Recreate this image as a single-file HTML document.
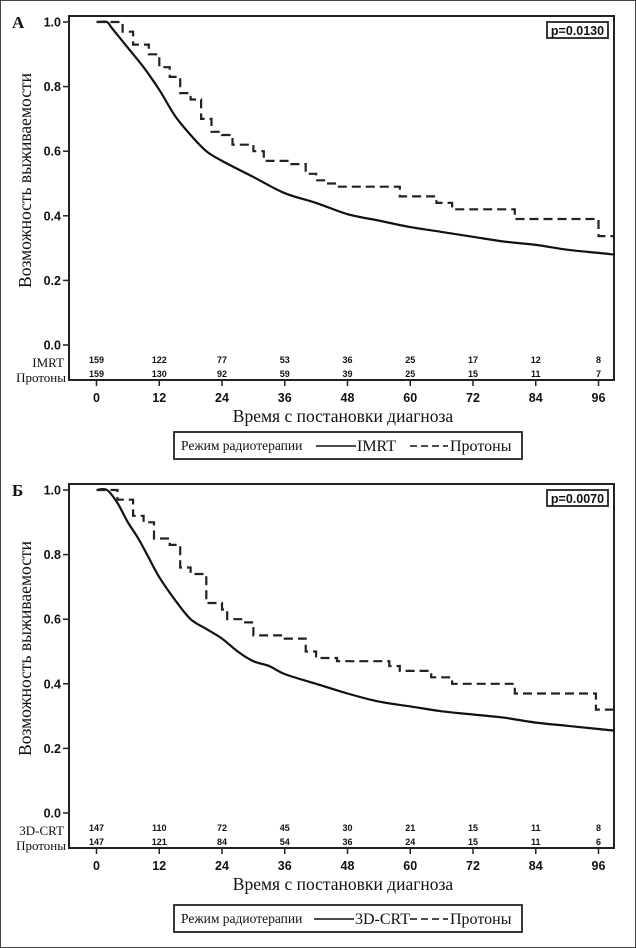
<!DOCTYPE html>
<html><head><meta charset="utf-8">
<style>
html,body{margin:0;padding:0;background:#fff;}
svg{display:block;}
.tick{font-family:"Liberation Sans",sans-serif;font-weight:bold;font-size:12.5px;fill:#111;}
.risk{font-family:"Liberation Sans",sans-serif;font-weight:bold;font-size:9px;fill:#111;}
.serif{font-family:"Liberation Serif","Noto Serif CJK SC",serif;fill:#111;}
</style></head>
<body>
<svg id="chart" width="636" height="948" viewBox="0 0 636 948" xmlns="http://www.w3.org/2000/svg">
<rect x="0.5" y="0.5" width="635" height="947" fill="#fff" stroke="#444" stroke-width="1"/>
</svg>
<script>
// ---- data ----
const xTicks=[0,12,24,36,48,60,72,84,96];
const yTicks=[0.0,0.2,0.4,0.6,0.8,1.0];
// Panel A
const aSolidT=[0,2,3,6,9,12,15,18,21,24,30,36,42,48,54,60,66,72,78,84,90,96,99];
const aSolidS=[1,1,0.98,0.92,0.86,0.79,0.71,0.65,0.60,0.57,0.52,0.47,0.44,0.405,0.385,0.365,0.35,0.335,0.32,0.31,0.295,0.285,0.28];
const aDashT=[0,5,7,10,12,14,16,18,20,22,24,26,30,32,37,40,42,44,46,58,65,68,80,96,99];
const aDashS=[1,0.97,0.93,0.90,0.86,0.83,0.78,0.76,0.70,0.66,0.65,0.62,0.60,0.57,0.56,0.53,0.51,0.50,0.49,0.46,0.44,0.42,0.39,0.337,0.337];
const aRisk1=[159,122,77,53,36,25,17,12,8];
const aRisk2=[159,130,92,59,39,25,15,11,7];
// Panel B
const bSolidT=[0,2,4,6,8,10,12,15,18,21,24,27,30,33,36,42,48,54,60,66,72,78,84,90,96,99];
const bSolidS=[1,1,0.96,0.90,0.85,0.79,0.73,0.66,0.60,0.57,0.54,0.50,0.47,0.455,0.43,0.40,0.37,0.345,0.33,0.315,0.305,0.295,0.28,0.27,0.26,0.255];
const bDashT=[0,4,7,9,11,14,16,18,21,24,25,28,30,36,40,42,46,56,58,64,68,80,95.5,99];
const bDashS=[1,0.97,0.92,0.90,0.85,0.83,0.76,0.74,0.65,0.63,0.60,0.59,0.55,0.54,0.50,0.48,0.47,0.455,0.44,0.42,0.40,0.37,0.32,0.32];
const bRisk1=[147,110,72,45,30,21,15,11,8];
const bRisk2=[147,121,84,54,36,24,15,11,6];

const NS="http://www.w3.org/2000/svg";
const svg=document.getElementById('chart');
function mk(tag,attrs,parent){const e=document.createElementNS(NS,tag);for(const k in attrs)e.setAttribute(k,attrs[k]);(parent||svg).appendChild(e);return e;}

function smoothPath(pts){
  let d='M'+pts[0][0].toFixed(1)+','+pts[0][1].toFixed(1);
  for(let i=0;i<pts.length-1;i++){
    const p0=pts[Math.max(0,i-1)],p1=pts[i],p2=pts[i+1],p3=pts[Math.min(pts.length-1,i+2)];
    const c1=[p1[0]+(p2[0]-p0[0])/6,p1[1]+(p2[1]-p0[1])/6];
    const c2=[p2[0]-(p3[0]-p1[0])/6,p2[1]-(p3[1]-p1[1])/6];
    d+='C'+c1[0].toFixed(1)+','+c1[1].toFixed(1)+' '+c2[0].toFixed(1)+','+c2[1].toFixed(1)+' '+p2[0].toFixed(1)+','+p2[1].toFixed(1);
  }
  return d;
}

function panel(cfg){
  const g=mk('g',{});
  
  
  const X=t=>96.5+t*(598.5-96.5)/96;
  const Y=s=>cfg.y0-s*(cfg.y0-cfg.y1);
  const frame=mk('rect',{x:69,y:cfg.top,width:545,height:cfg.bot-cfg.top,fill:'none',stroke:'#222','stroke-width':2},g);
  
  
  const lab=mk('text',{x:12,y:cfg.top+12,class:'serif','font-size':17,'font-weight':'bold'},g);lab.textContent=cfg.letter;
  
  
  yTicks.forEach(v=>{
    mk('line',{x1:63,x2:69,y1:Y(v),y2:Y(v),stroke:'#222','stroke-width':1.5},g);
    const t=mk('text',{x:61,y:Y(v)+4.5,class:'tick','text-anchor':'end'},g);t.textContent=v.toFixed(1);
    
    
  });
  xTicks.forEach((v,i)=>{
    mk('line',{x1:X(v),x2:X(v),y1:cfg.bot,y2:cfg.bot+6,stroke:'#222','stroke-width':1.5},g);
    const t=mk('text',{x:X(v),y:cfg.bot+22,class:'tick','text-anchor':'middle'},g);t.textContent=v;
    
    
    const r1=mk('text',{x:X(v),y:cfg.bot-17,class:'risk','text-anchor':'middle'},g);r1.textContent=cfg.r1[i];
    
    
    const r2=mk('text',{x:X(v),y:cfg.bot-3,class:'risk','text-anchor':'middle'},g);r2.textContent=cfg.r2[i];
    
    
  });
  const n1=mk('text',{x:64,y:cfg.bot-13,class:'serif','font-size':13,'text-anchor':'end'},g);n1.textContent=cfg.g1;
  
  
  const n2=mk('text',{x:66,y:cfg.bot+2,class:'serif','font-size':13,'text-anchor':'end'},g);n2.textContent='Протоны';
  
  
  const yt=mk('text',{x:0,y:0,class:'serif','font-size':17.5,'text-anchor':'middle',transform:`translate(31,${(cfg.y0+cfg.y1)/2-3}) rotate(-90)`},g);yt.textContent='Возможность выживаемости';
  
  
  const xt=mk('text',{x:343,y:cfg.bot+42,class:'serif','font-size':17.5,'text-anchor':'middle'},g);xt.textContent='Время с постановки диагноза';
  
  
  const pb=mk('rect',{x:547,y:cfg.top+6,width:61,height:16,fill:'#fff',stroke:'#222','stroke-width':1.8},g);
  
  
  const pt=mk('text',{x:577.5,y:cfg.top+19,class:'tick','text-anchor':'middle','font-size':11.5},g);pt.textContent=cfg.p;
  
  
  const pts=cfg.sT.map((t,i)=>[X(t),Y(cfg.sS[i])]);
  const sp=mk('path',{d:smoothPath(pts),fill:'none',stroke:'#111','stroke-width':2.2,'stroke-linejoin':'round'},g);
  
  
  let dd='';cfg.dT.forEach((t,i)=>{if(i===0)dd+='M'+X(t)+','+Y(cfg.dS[0]);else{dd+='H'+X(t).toFixed(1)+'V'+Y(cfg.dS[i]).toFixed(1);}});
  const dp=mk('path',{d:dd,fill:'none',stroke:'#222','stroke-width':2.2,'stroke-dasharray':'9,5'},g);
  
  
  const lg=mk('g',{},g);
  
  
  mk('rect',{x:174,y:cfg.leg,width:348,height:27,fill:'#fff',stroke:'#222','stroke-width':1.8},lg);
  const lt=mk('text',{x:181,y:cfg.leg+18,class:'serif','font-size':13.5},lg);lt.textContent='Режим радиотерапии';
  
  
  mk('line',{x1:cfg.lx1,x2:cfg.lx1+40,y1:cfg.leg+14,y2:cfg.leg+14,stroke:'#111','stroke-width':1.5},lg);
  const l1=mk('text',{x:cfg.lx1+41,y:cfg.leg+19,class:'serif','font-size':16},lg);l1.textContent=cfg.g1;
  
  
  mk('line',{x1:cfg.lx2,x2:cfg.lx2+38,y1:cfg.leg+14,y2:cfg.leg+14,stroke:'#111','stroke-width':1.5,'stroke-dasharray':'7,4'},lg);
  const l2=mk('text',{x:cfg.lx2+40,y:cfg.leg+19,class:'serif','font-size':16},lg);l2.textContent='Протоны';
  
  
}
panel({name:'panel-a',letter:'А',top:16,bot:380,y1:22,y0:345,sT:aSolidT,sS:aSolidS,dT:aDashT,dS:aDashS,r1:aRisk1,r2:aRisk2,g1:'IMRT',p:'p=0.0130',leg:432,lx1:316,lx2:410});
panel({name:'panel-b',letter:'Б',top:484,bot:848,y1:490,y0:813,sT:bSolidT,sS:bSolidS,dT:bDashT,dS:bDashS,r1:bRisk1,r2:bRisk2,g1:'3D-CRT',p:'p=0.0070',leg:905,lx1:314,lx2:410});
</script>
</body></html>
